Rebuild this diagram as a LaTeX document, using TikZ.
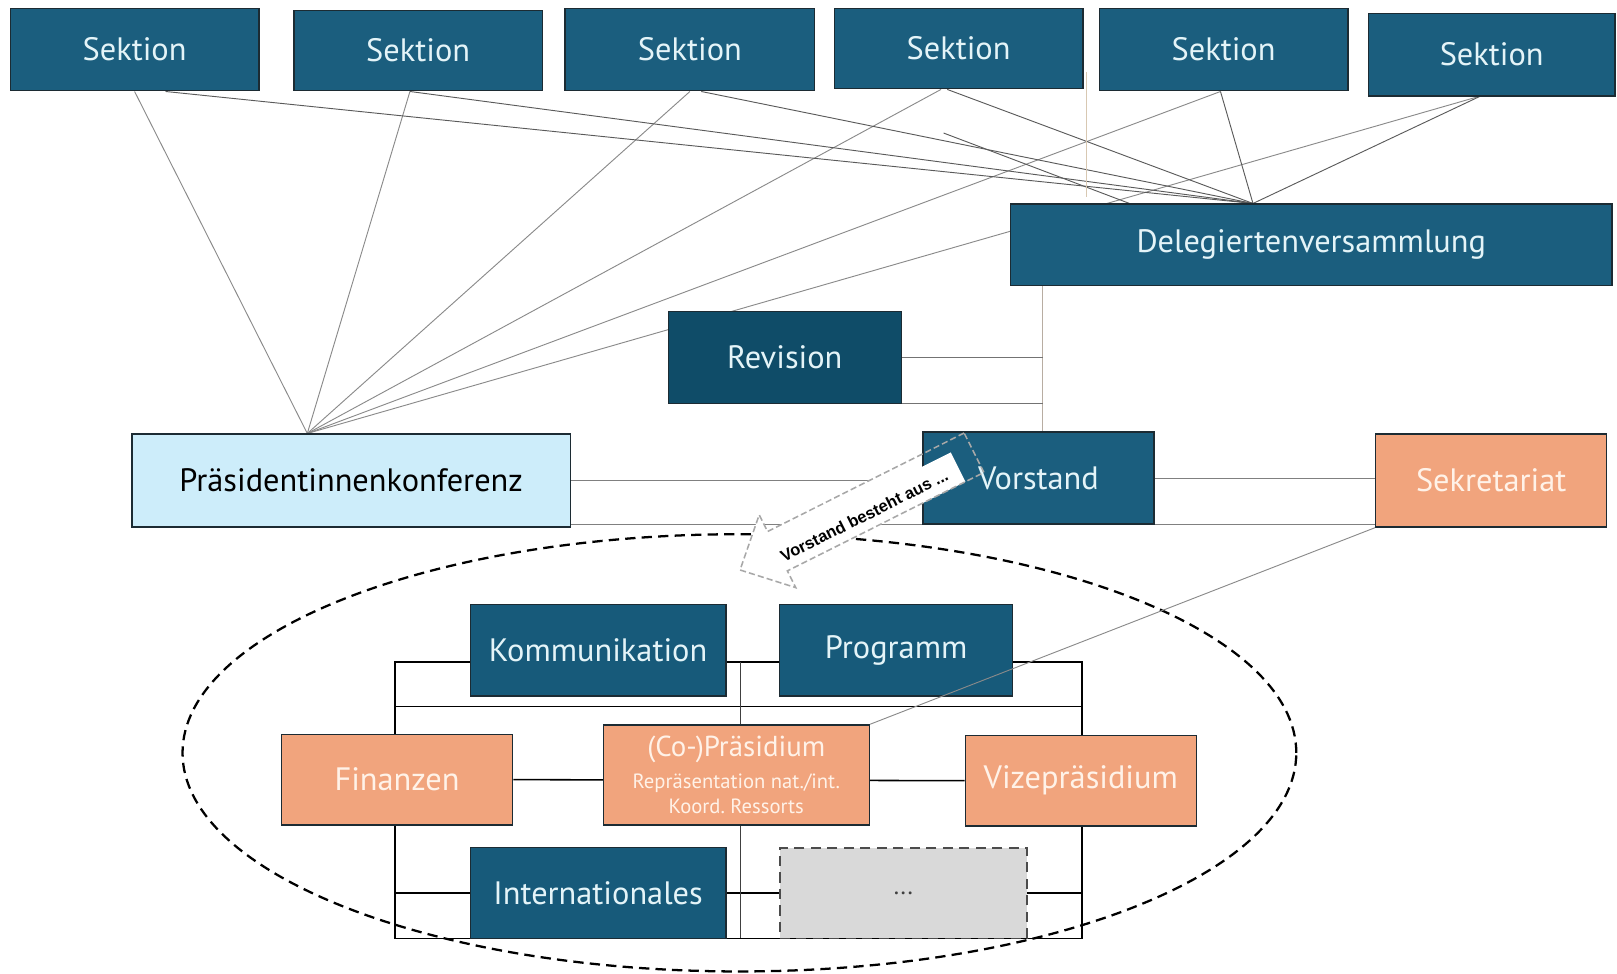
\documentclass[tikz,border=0pt]{standalone}
\usepackage{fontspec}
\setmainfont{PT Sans}
\newfontfamily\arrowfont{Liberation Sans}
\usetikzlibrary{calc,shapes.geometric}
\pgfdeclarelayer{bg}
\pgfdeclarelayer{arrbg}
\pgfdeclarelayer{fg}
\pgfsetlayers{bg,arrbg,main,fg}
\definecolor{secblue}{HTML}{1B5E7E}
\definecolor{revblue}{HTML}{0F4C68}
\definecolor{inblue}{HTML}{175A7A}
\definecolor{salmon}{HTML}{F1A47D}
\definecolor{lightblue}{HTML}{CDEDFA}
\definecolor{boxline}{HTML}{1C2B33}
\definecolor{bluetext}{HTML}{E4F4F8}
\definecolor{salmtext}{HTML}{FFF2E8}
\definecolor{connc}{HTML}{8A8A8A}
\definecolor{conndark}{HTML}{5A5A5A}
\definecolor{tanc}{HTML}{D8C8B2}
\definecolor{vertc}{HTML}{B8ADA2}
\definecolor{greybox}{HTML}{D9D9D9}
\definecolor{arrc}{HTML}{A8A8A8}
\newcommand\orgnode[7]{%
  \pgfmathsetmacro\orgW{(#5-#3)*0.5}\pgfmathsetmacro\orgH{(#6-#4)*0.5}%
  \pgfmathsetmacro\orgX{(#3+#5)/2}\pgfmathsetmacro\orgY{(#4+#6)/2}%
  \node[#1, minimum width=\orgW pt, minimum height=\orgH pt] (#2) at (\orgX,\orgY) {#7};}
\frenchspacing
\begin{document}
\begin{tikzpicture}[x=0.5pt,y=-0.5pt,
  orgbox/.style={draw=boxline, line width=0.7pt, inner sep=0pt, font=\fontsize{15.7}{18}\selectfont},
  sekst/.style={orgbox, fill=secblue, text=bluetext},
  revst/.style={orgbox, fill=revblue, text=bluetext},
  inbst/.style={orgbox, fill=inblue, text=bluetext},
  salst/.style={orgbox, fill=salmon, text=salmtext},
  pkst/.style={orgbox, fill=lightblue, text=black},
  dotbox/.style={orgbox, fill=greybox, draw=black!70, dash pattern=on 5pt off 3pt, line width=0.9pt, text=black!75, font=\fontsize{12}{14}\selectfont},
  lnk/.style={draw=connc, line width=0.45pt},
  lnkd/.style={draw=conndark, line width=0.45pt},
  framest/.style={draw=black, line width=0.75pt},
  thinframe/.style={draw=black!75, line width=0.5pt},
  ellst/.style={draw=black, line width=1.1pt, dash pattern=on 5pt off 3pt, inner sep=0pt},
  arrout/.style={draw=arrc, line width=0.75pt, dash pattern=on 3pt off 1.5pt}
]
\useasboundingbox (0,0) rectangle (1568,944);

% ---------- boxes ----------
\orgnode{sekst}{s1}{10}{8}{251}{88}{Sektion}
\orgnode{sekst}{s2}{285}{10}{526}{88}{Sektion}
\orgnode{sekst}{s3}{548}{8}{790}{88}{Sektion}
\orgnode{sekst}{s4}{809}{8}{1050}{86}{Sektion}
\orgnode{sekst}{s5}{1066}{8}{1307}{88}{Sektion}
\orgnode{sekst}{s6}{1327}{13}{1566}{93}{Sektion}
\orgnode{sekst}{dv}{980}{198}{1563}{277}{Delegiertenversammlung}
\orgnode{revst}{rv}{648}{302}{874}{391}{Revision}
\orgnode{pkst}{pk}{128}{421}{553}{511}{Präsidentinnenkonferenz}
\orgnode{sekst}{vs}{895}{419}{1119}{508}{Vorstand}
\orgnode{salst}{sk}{1334}{421}{1558}{511}{Sekretariat}
\orgnode{inbst}{ko}{456}{586}{704}{675}{Kommunikation}
\orgnode{inbst}{pg}{756}{586}{982}{675}{Programm}
\orgnode{salst}{fi}{273}{712}{497}{800}{Finanzen}
\orgnode{salst,align=center,font=\fontsize{10}{12}\selectfont}{pr}{585}{703}{843}{800}{{\fontsize{14}{16}\selectfont (Co-)Präsidium}\\[3.5pt]Repräsentation nat./int.\\Koord. Ressorts}
\orgnode{salst}{vz}{936}{713}{1160}{801}{Vizepräsidium}
\orgnode{inbst}{in}{456}{822}{704}{910}{Internationales}
\orgnode{dotbox}{dd}{756}{822}{996}{910}{...}

% ---------- connectors (behind) ----------
\begin{pgfonlayer}{bg}
  \coordinate (F) at ($(pk.north)+(-42.5,0)$);
  \coordinate (D) at ($(dv.north)+(-56.5,0)$);
  % fan to Praesidentinnenkonferenz
  \draw[lnk] (F) -- (s1.south);
  \draw[lnk] (F) -- ($(s2.south)+(-8,0)$);
  \draw[lnk] (F) -- (s3.south);
  \draw[lnk] (F) -- ($(s4.south)+(-17,0)$);
  \draw[lnk] (F) -- ($(s5.south)+(-3,0)$);
  \draw[lnk] (F) -- ($(s6.south)+(-13,0)$);
  % fan to Delegiertenversammlung
  \draw[lnkd] (D) -- ($(s1.south)+(30,0)$);
  \draw[lnkd] (D) -- ($(s2.south)+(-8,0)$);
  \draw[lnkd] (D) -- ($(s3.south)+(11,0)$);
  \draw[lnkd] (D) -- ($(s4.south)+(-11,0)$);
  \draw[lnkd] (D) -- ($(s5.south)+(-3,0)$);
  \draw[lnkd] (D) -- ($(s6.south)+(-12,0)$);
  \coordinate (c1) at (915,129);
  \draw[lnkd] (c1) -- ($(dv.north west)+(116,0)$);
  % thin vertical lines
  \coordinate (t1) at (1054,70);
  \coordinate (t2) at (1054,191);
  \draw[draw=tanc, line width=0.5pt] (t1) -- (t2);
  \coordinate (vtop) at ($(vs.north)+(4,0)$);
  \draw[draw=vertc, line width=0.5pt] (vtop) -- (vtop |- dv.south);
  % Revision
  \draw[lnk, draw=black!55] (rv.east) -- (rv.east -| vtop);
  \draw[lnk, draw=black!55] (rv.south east) -- (rv.south east -| vtop);
  % Praesidentinnenkonferenz -- Vorstand -- Sekretariat
  \draw[lnk, draw=black!50] (pk.east) -- (pk.east -| vs.west);
  \draw[lnk, draw=black!50] (vs.south west) -- (vs.south west -| pk.east);
  \draw[lnk, draw=black!50] (vs.east) -- (vs.east -| sk.west);
  \draw[lnk, draw=black!50] (vs.south east) -- (vs.south east -| sk.west);
  % inner frame
  \coordinate (fa) at (383,642);
  \coordinate (fb) at (1049,910);
  \draw[framest] (fa) rectangle (fb);
  \draw[framest] (fa |- 0,685) -- (fb |- 0,685);
  \draw[framest] (fa |- in.west) -- (fb |- in.west);
  \draw[framest] (fi.east) -- (vz.west);
  \draw[thinframe] (718,642) -- (718,910);
  % dashed ellipse
  \node[ellst, ellipse, minimum width=540pt, minimum height=212pt] (grp) at (717,730) {};
\end{pgfonlayer}

% ---------- block arrow ----------
\begin{pgfonlayer}{arrbg}
  \fill[white] (934.9,419.9) -- (744.3,515.4) -- (736.2,499.2) -- (717.6,552.7)
     -- (771.6,569.8) -- (763.5,553.6) -- (954.1,458.1) -- cycle;
\end{pgfonlayer}
\begin{pgfonlayer}{fg}
  \fill[white] (921.9,438.7) -- (936.2,467.1) -- (846.8,511.9) -- (832.5,483.5) -- cycle;
  \node[rotate=26.6, inner sep=0pt, font=\arrowfont\bfseries\fontsize{8}{10}\selectfont] (arrtxt) at (838,500) {Vorstand besteht aus ...};
  \draw[arrout] (934.9,419.9) -- (744.3,515.4) -- (736.2,499.2) -- (717.6,552.7)
     -- (771.6,569.8) -- (763.5,553.6) -- (954.1,458.1) -- cycle;
  \draw[lnk] (sk.south west) -- (pr.north east);
\end{pgfonlayer}
\end{tikzpicture}
\end{document}
